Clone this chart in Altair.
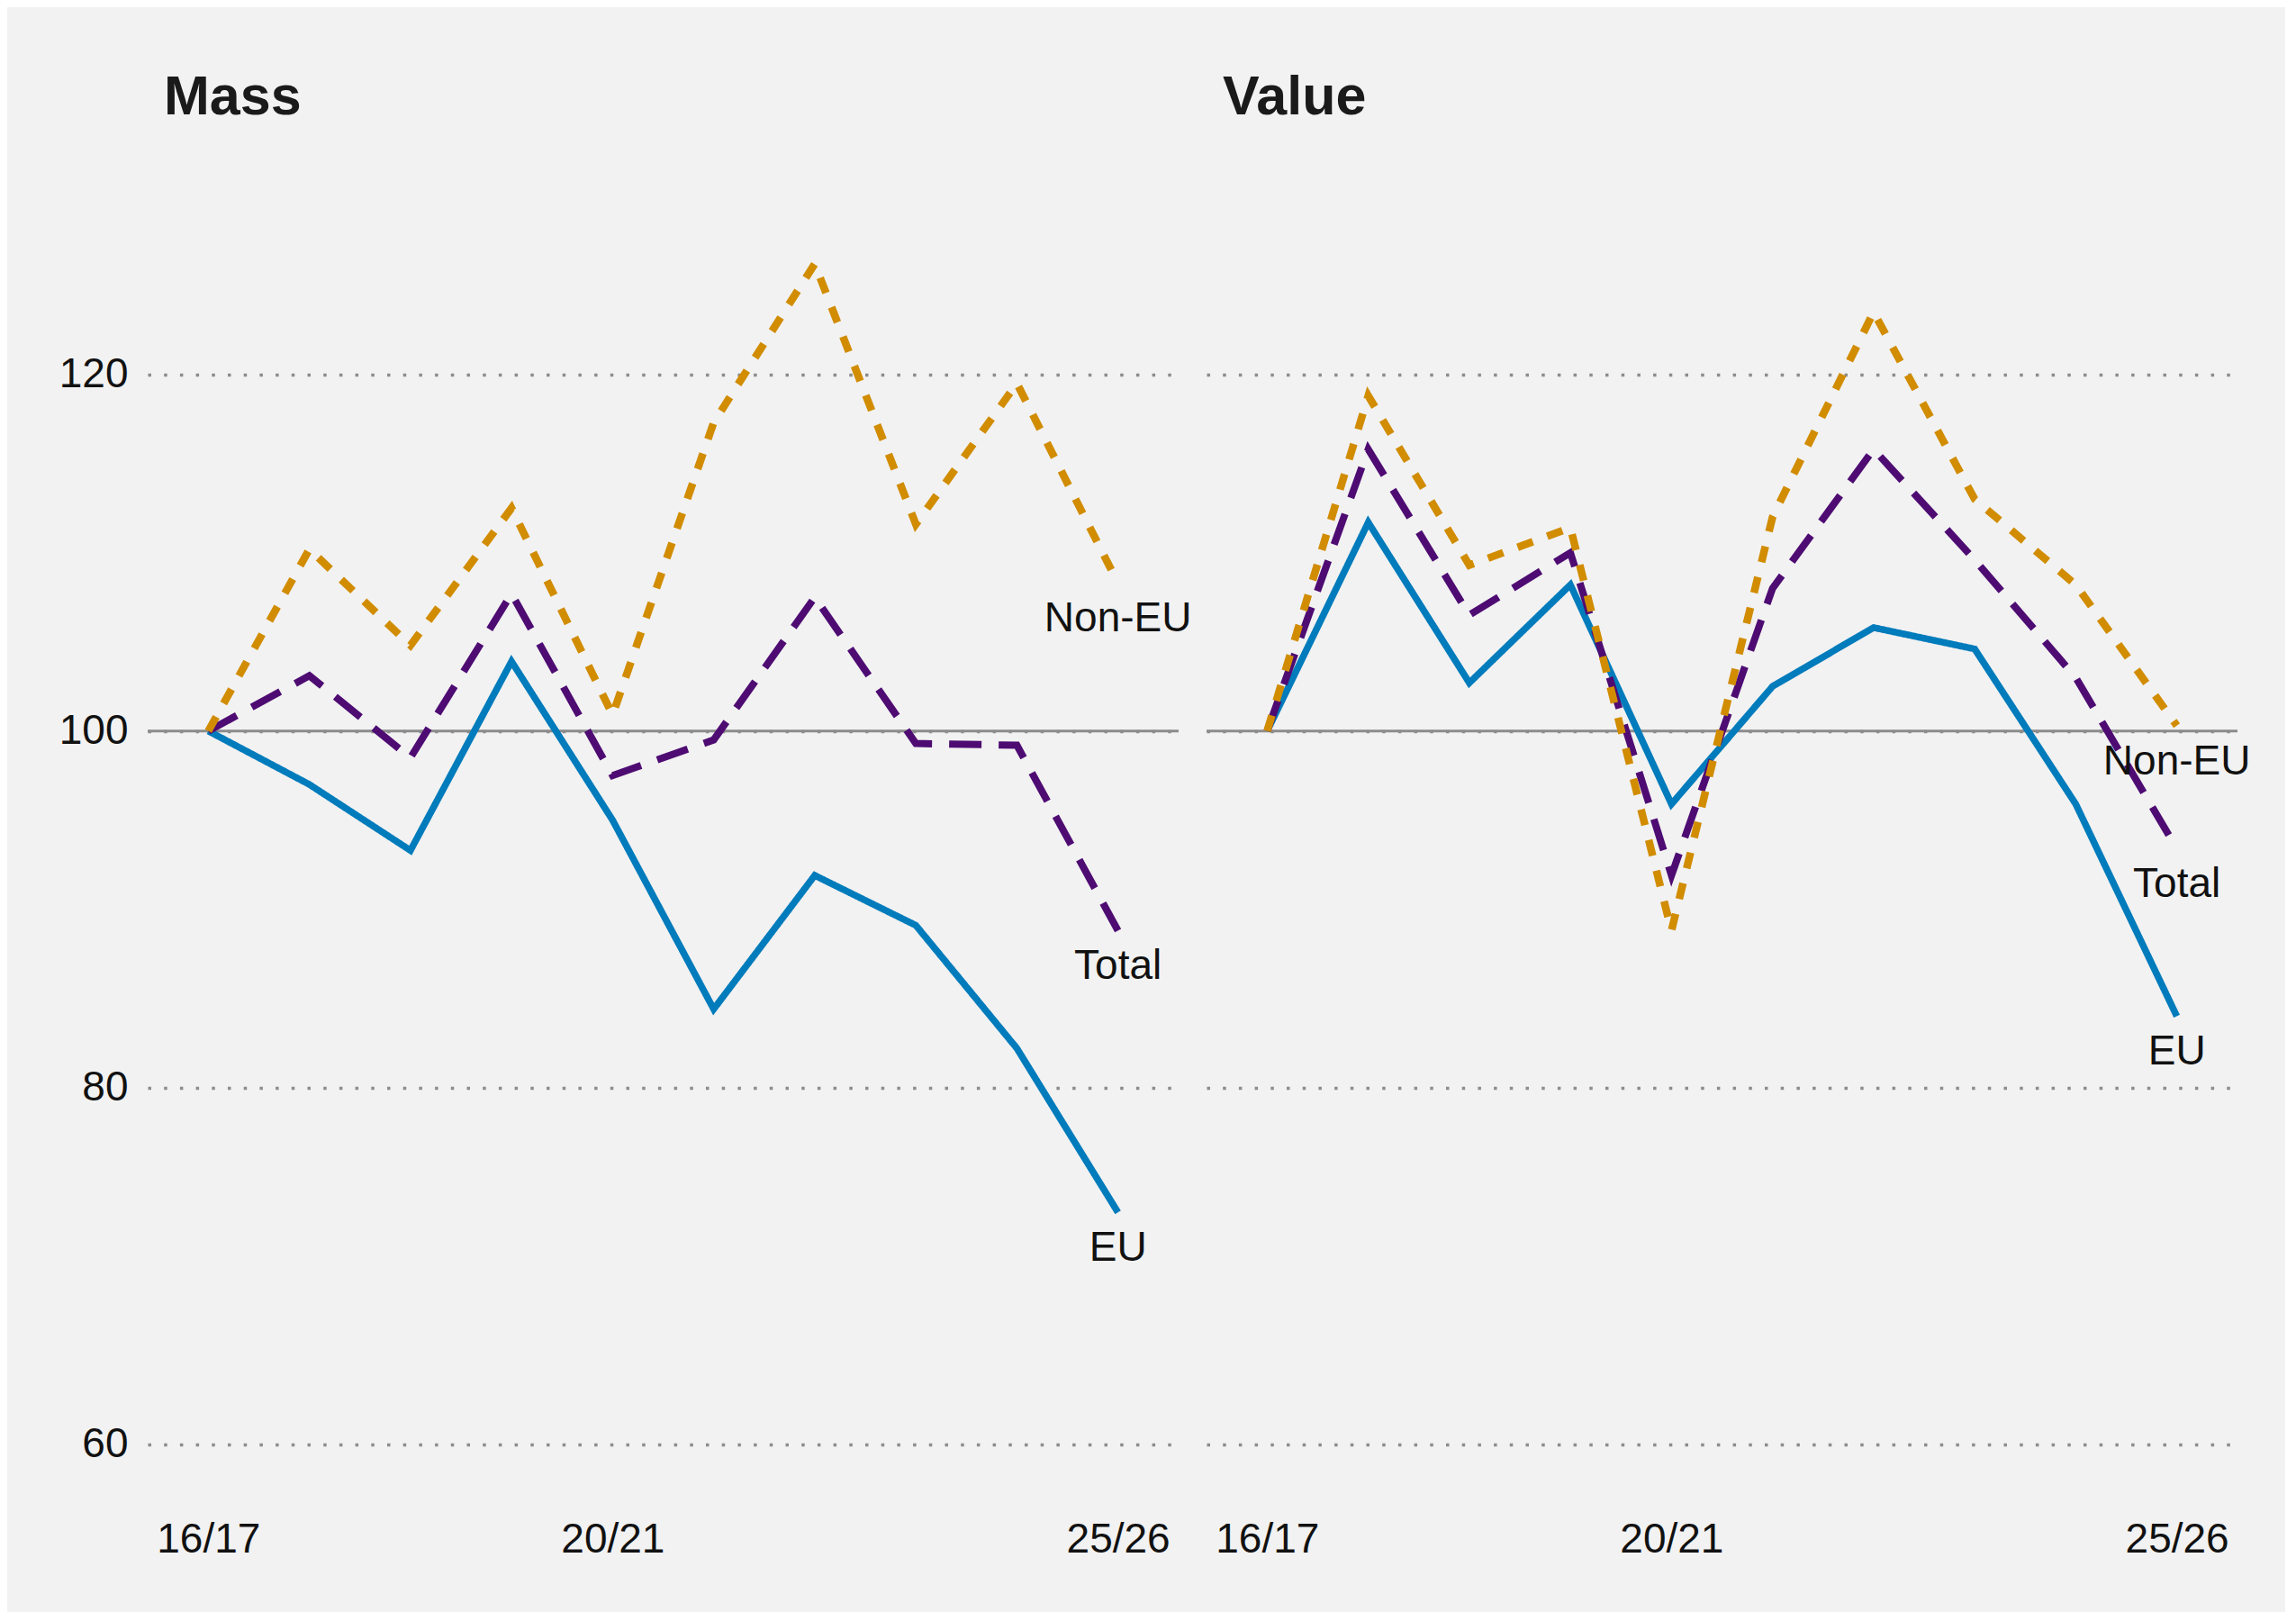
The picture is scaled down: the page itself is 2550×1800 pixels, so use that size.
import altair as alt
import pandas as pd

years = ["16/17", "17/18", "18/19", "19/20", "20/21",
         "21/22", "22/23", "23/24", "24/25", "25/26"]
shown_years = ["16/17", "20/21", "25/26"]
series = ["EU", "Total", "Non-EU"]
colours = ["#007bbb", "#4e0c73", "#d18c00"]
dashes = [[1, 0], [36, 19], [18, 17]]
widths = [7.5, 8.5, 8.5]

# index, 16/17 = 100
mass_eu = [100, 97.0, 93.3, 103.9, 95.0, 84.4, 91.9, 89.1, 82.2, 73.0]
mass_total = [100, 103.1, 98.5, 107.7, 97.5, 99.5, 107.5, 99.3, 99.2, 88.8]
mass_non_eu = [100, 110.2, 104.8, 112.5, 100.9, 117.3, 126.2, 111.6, 119.5, 108.3]

value_eu = [100, 111.7, 102.7, 108.2, 95.9, 102.5, 105.8, 104.6, 95.9, 84.0]
value_total = [100, 115.8, 106.5, 110.0, 91.9, 108.0, 115.8, 109.6, 103.0, 93.4]
value_non_eu = [100, 118.8, 109.3, 111.4, 88.8, 112.0, 123.5, 113.0, 108.2, 100.3]

y_ticks = [60, 80, 100, 120]
baseline = 100
y_domain = [57, 131]


def tidy(eu, total, non_eu):
    frames = []
    for name, vals in zip(series, [eu, total, non_eu]):
        frames.append(pd.DataFrame({"year": years, "series": name, "value": vals}))
    return pd.concat(frames)


def panel(df, title, show_y):
    x = alt.X(
        "year:O", sort=years, title=None,
        scale=alt.Scale(type="point", padding=0.6),
        axis=alt.Axis(values=shown_years, labelAngle=0, domain=False, ticks=False,
                      labelFontSize=46, labelPadding=24, labelColor="#111111",
                      labelFont="Liberation Sans", grid=False),
    )
    y_axis = dict(values=y_ticks, labels=show_y, domain=False, ticks=False,
                  labelFontSize=46, labelPadding=22, labelColor="#111111",
                  labelFont="Liberation Sans",
                  grid=True, gridColor="#8c8c8c", gridWidth=3.5, gridDash=[3.5, 14.2])
    if not show_y:
        y_axis.update(labelPadding=0, minExtent=0, maxExtent=0)
    y = alt.Y(
        "value:Q", title=None,
        scale=alt.Scale(domain=y_domain, nice=False, zero=False),
        axis=alt.Axis(**y_axis),
    )

    lines = alt.Chart(df).mark_line().encode(
        x=x,
        y=y,
        color=alt.Color("series:N", scale=alt.Scale(domain=series, range=colours), legend=None),
        strokeDash=alt.StrokeDash("series:N", scale=alt.Scale(domain=series, range=dashes), legend=None),
        strokeWidth=alt.StrokeWidth("series:N", scale=alt.Scale(domain=series, range=widths), legend=None),
        detail="series:N",
    )

    base_rule = alt.Chart(pd.DataFrame({"y": [baseline]})).mark_rule(
        color="#8c8c8c", strokeWidth=3
    ).encode(y=alt.Y("y:Q", scale=alt.Scale(domain=y_domain, nice=False, zero=False)))

    labels = alt.Chart(df[df["year"] == years[-1]]).mark_text(
        align="center", baseline="top", dy=18, fontSize=46,
        font="Liberation Sans", color="#111111",
    ).encode(x=x, y=y, text="series:N")

    return alt.layer(base_rule, lines, labels).properties(
        width=1145, height=1465,
        title=alt.TitleParams(title, anchor="start", frame="group", dx=18,
                              fontSize=61, font="Liberation Sans", fontWeight="bold",
                              color="#1a1a1a", offset=58),
    )


mass = panel(tidy(mass_eu, mass_total, mass_non_eu), "Mass", True)
value = panel(tidy(value_eu, value_total, value_non_eu), "Value", False)

chart = alt.hconcat(mass, value, spacing=14).properties(
    padding={"left": 57, "top": 70, "right": 38, "bottom": 58},
    background="#f2f2f2",
).configure_view(stroke=None)

chart.save("out.html", embed_options={"renderer": "svg", "actions": False})
